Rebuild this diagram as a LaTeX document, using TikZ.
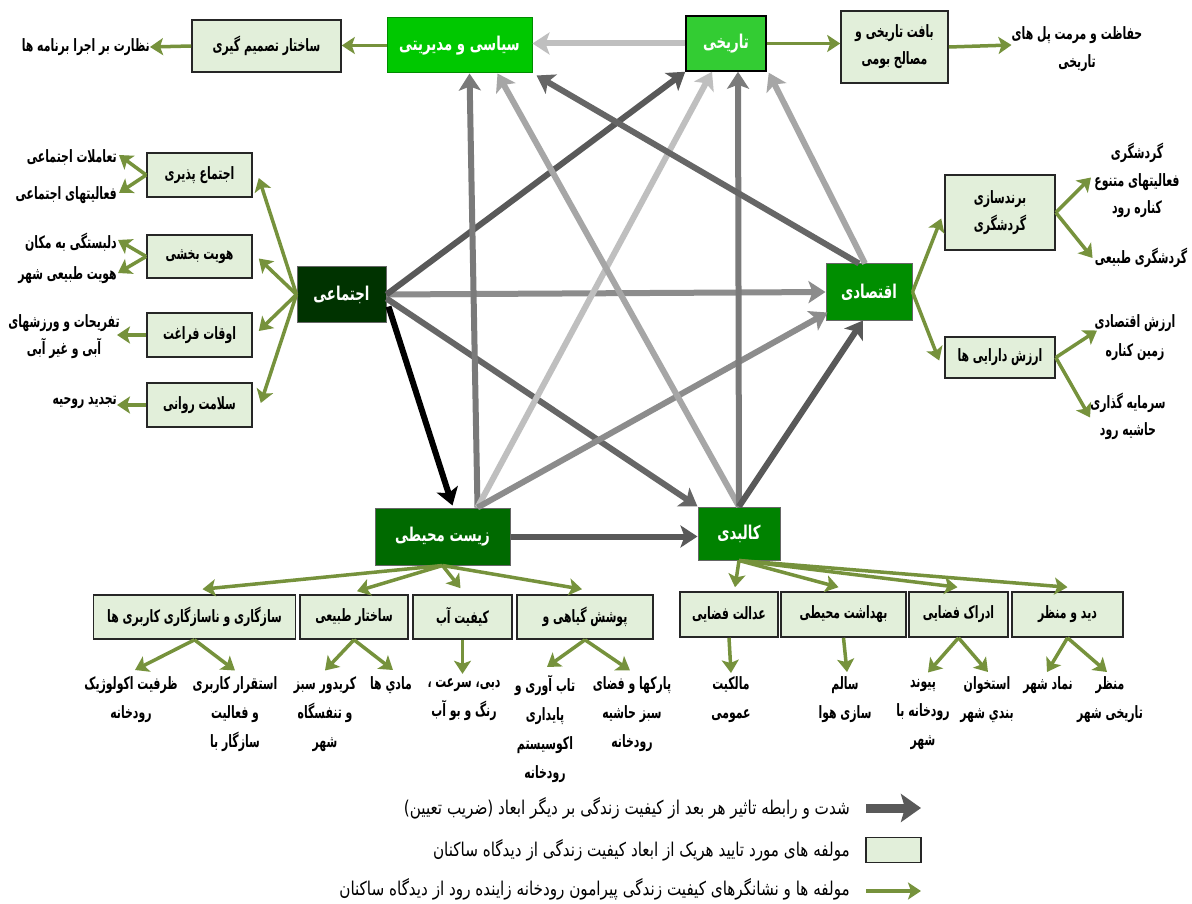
\documentclass[tikz,border=0pt]{standalone}
\usepackage{fontspec}
\usetikzlibrary{arrows.meta,calc}
\TeXXeTstate=1
\newfontfamily\fadim[Script=Arabic,FakeStretch=0.70]{DejaVu Sans}
\newfontfamily\facomp[Script=Arabic,FakeStretch=0.64]{DejaVu Sans}
\newfontfamily\faleg[Script=Arabic,FakeStretch=0.80]{DejaVu Sans}
\newcommand\RL[1]{\beginR#1\endR}
\definecolor{gline}{HTML}{76923C}
\definecolor{compfill}{HTML}{E2EFDA}
\definecolor{polc}{HTML}{00C800}
\definecolor{hisc}{HTML}{33CC33}
\definecolor{socc}{HTML}{003300}
\definecolor{ecoc}{HTML}{008E00}
\definecolor{envc}{HTML}{006A00}
\definecolor{phyc}{HTML}{008200}
\definecolor{ga}{HTML}{BFBFBF}
\definecolor{gb}{HTML}{A6A6A6}
\definecolor{gc}{HTML}{8C8C8C}
\definecolor{gd}{HTML}{7A7A7A}
\definecolor{ge}{HTML}{666666}
\definecolor{gf}{HTML}{595959}
\begin{document}
\begin{tikzpicture}[x=1pt,y=-1pt,
  gar/.style={line width=3.5pt, draw=gline, -{Stealth[length=13pt,width=17pt,inset=3pt]}},
  rel/.style={line width=6pt, draw=#1, -{Stealth[length=17pt,width=22pt,inset=4pt]}},
  dim/.style={fill=#1, draw=black!60, line width=1pt, text=white, font=\fadim\bfseries\fontsize{19}{21}\selectfont, inner sep=0pt},
  comp/.style={fill=compfill, draw=black!85, line width=1.6pt, font=\facomp\bfseries\fontsize{17}{27}\selectfont, inner sep=0pt, align=center},
  leaf/.style={font=\facomp\bfseries\fontsize{17}{29}\selectfont, inner sep=0pt, align=center},
  legt/.style={font=\faleg\fontsize{19}{21}\selectfont, inner sep=0pt, anchor=east}
]
\fill[white] (0,0) rectangle (1192,904);
\useasboundingbox (0,0) rectangle (1192,904);

% main dimensions
\node[dim=polc, draw=polc!70!black, minimum width=145pt, minimum height=55pt] (pol) at (459.5,45.5) {\RL{سیاسی و مدیریتی}};
\node[dim=hisc, draw=black, line width=1.5pt, minimum width=80pt, minimum height=55pt] (his) at (726,43.5) {\RL{تاریخی}};
\node[dim=socc, minimum width=89pt, minimum height=55pt] (soc) at (341.5,294.5) {\RL{اجتماعی}};
\node[dim=ecoc, minimum width=86pt, minimum height=56pt] (eco) at (869,292) {\RL{اقتصادی}};
\node[dim=envc, minimum width=135pt, minimum height=57pt] (env) at (442.5,536.5) {\RL{زیست محیطی}};
\node[dim=phyc, minimum width=82pt, minimum height=53pt] (phy) at (739,533.5) {\RL{کالبدی}};

% components
\node[comp, minimum width=149pt, minimum height=52pt] (dec) at (266.5,46) {\RL{ساختار تصمیم گیری}};
\node[comp, minimum width=107pt, minimum height=72pt] (baft) at (894.5,47) {\RL{بافت تاریخی و}\\\RL{مصالح بومی}};
\node[comp, minimum width=105pt, minimum height=44pt] (ej) at (199.5,175) {\RL{اجتماع پذیری}};
\node[comp, minimum width=105pt, minimum height=43pt] (hv) at (199.5,256.5) {\RL{هویت بخشی}};
\node[comp, minimum width=105pt, minimum height=44pt] (of) at (199.5,335) {\RL{اوقات فراغت}};
\node[comp, minimum width=105pt, minimum height=44pt] (sr) at (199.5,405) {\RL{سلامت روانی}};
\node[comp, minimum width=110pt, minimum height=75pt] (bg) at (1000,212.5) {\RL{برندسازی}\\\RL{گردشگری}};
\node[comp, minimum width=110pt, minimum height=41pt] (ad) at (1000,357.5) {\RL{ارزش دارایی ها}};
\node[comp, minimum width=202pt, minimum height=44pt] (saz) at (194.5,617) {\RL{سازگاری و ناسازگاری کاربری ها}};
\node[comp, minimum width=108pt, minimum height=44pt] (sak) at (354,617) {\RL{ساختار طبیعی}};
\node[comp, minimum width=99pt, minimum height=44pt] (kab) at (462.5,617) {\RL{کیفیت آب}};
\node[comp, minimum width=136pt, minimum height=44pt] (poo) at (585,617) {\RL{پوشش گیاهی و}};
\node[comp, minimum width=98pt, minimum height=45pt] (adl) at (729,614.5) {\RL{عدالت فضایی}};
\node[comp, minimum width=125pt, minimum height=45pt] (beh) at (843.5,614.5) {\RL{بهداشت محیطی}};
\node[comp, minimum width=99pt, minimum height=45pt] (edr) at (958.5,614.5) {\RL{ادراک فضایی}};
\node[comp, minimum width=111pt, minimum height=45pt] (did) at (1067.5,614.5) {\RL{دید و منظر}};

% leaves
\node[leaf, anchor=east] (nz) at (150,47) {\RL{نظارت بر اجرا برنامه ها}};
\node[leaf, font=\facomp\bfseries\fontsize{17}{28}\selectfont] (haf) at (1077,49) {\RL{حفاظت و مرمت پل های}\\\RL{تاریخی}};
\node[leaf, anchor=east] (tam) at (117,158) {\RL{تعاملات اجتماعی}};
\node[leaf, anchor=east] (fa) at (117,195) {\RL{فعالیتهای اجتماعی}};
\node[leaf, anchor=east] (del) at (117,242) {\RL{دلبستگی به مکان}};
\node[leaf, anchor=east] (hov) at (117,275) {\RL{هویت طبیعی شهر}};
\node[leaf, font=\facomp\bfseries\fontsize{17}{27}\selectfont] (taf) at (64,337) {\RL{تفریحات و ورزشهای}\\\RL{آبی و غیر آبی}};
\node[leaf, anchor=east] (taj) at (117,402) {\RL{تجدید روحیه}};
\node[leaf, font=\facomp\bfseries\fontsize{17}{27.5}\selectfont] (gf) at (1137,180.5) {\RL{گردشگری}\\\RL{فعالیتهای متنوع}\\\RL{کناره رود}};
\node[leaf] (gt) at (1141,258) {\RL{گردشگری طبیعی}};
\node[leaf] (ez) at (1135,337.5) {\RL{ارزش اقتصادی}\\\RL{زمین کناره}};
\node[leaf, font=\facomp\bfseries\fontsize{17}{27}\selectfont] (sg) at (1128,416.5) {\RL{سرمایه گذاری}\\\RL{حاشیه رود}};
\node[leaf] (zar) at (131,700) {\RL{ظرفیت اکولوژیک}\\\RL{رودخانه}};
\node[leaf] (est) at (235,714.5) {\RL{استقرار کاربری}\\\RL{و فعالیت}\\\RL{سازگار با}};
\node[leaf] (kor) at (325,714.5) {\RL{کریدور سبز}\\\RL{و تنفسگاه}\\\RL{شهر}};
\node[leaf] (mad) at (391,685) {\RL{مادي ها}};
\node[leaf] (dob) at (464,700) {\RL{دبی، سرعت ،}\\\RL{رنگ و بو آب}};
\node[leaf] (tab) at (545,729) {\RL{تاب آوری و}\\\RL{پایداری}\\\RL{اکوسیستم}\\\RL{رودخانه}};
\node[leaf] (park) at (632,714.5) {\RL{پارکها و فضای}\\\RL{سبز حاشیه}\\\RL{رودخانه}};
\node[leaf] (mal) at (731,700) {\RL{مالکیت}\\\RL{عمومی}};
\node[leaf] (sal) at (845,700) {\RL{سالم}\\\RL{سازی هوا}};
\node[leaf] (pay) at (923,714.5) {\RL{پیوند}\\\RL{رودخانه با}\\\RL{شهر}};
\node[leaf] (ost) at (987,700) {\RL{استخوان}\\\RL{بندي شهر}};
\node[leaf] (nem) at (1048,685) {\RL{نماد شهر}};
\node[leaf] (man) at (1110,700) {\RL{منظر}\\\RL{تاریخی شهر}};

% relations between dimensions
\draw[rel=ga] (his.west) -- (his.west -| pol.east);
\draw[rel=gc] (soc.east) -- (eco.west);
\draw[rel=gf] (soc.east) -- (his.south west);
\draw[rel=ge] ($(soc.east)+(0,4)$) -- (phy.north west);
\draw[rel=black] ($(soc.south east)+(2,-16)$) -- ($(env.north)+(10,-2)$);
\draw[rel=gd] ($(env.north)+(35,0)$) -- ($(pol.south)+(10,0)$);
\draw[rel=ga] ($(env.north)+(35,0)$) -- ($(his.south)+(-14,0)$);
\draw[rel=gc] ($(env.north)+(35,0)$) -- ($(eco.south west)+(2,-8)$);
\draw[rel=gf] (env.east) -- (env.east -| phy.west);
\draw[rel=gb] (phy.north) -- ($(pol.south)+(38,0)$);
\draw[rel=gd] (phy.north) -- ($(his.south)+(12,0)$);
\draw[rel=gf] (phy.north) -- ($(eco.south)+(-6,0)$);
\draw[rel=ge] ($(eco.north)+(-10,0)$) -- ($(pol.south east)+(4,2)$);
\draw[rel=gb] ($(eco.north)+(-4,0)$) -- ($(his.south east)+(2,1)$);

% green component arrows
\draw[gar] (pol.west) -- (pol.west -| dec.east);
\draw[gar] (dec.west) -- (nz.east);
\draw[gar] (his.east) -- (his.east -| baft.west);
\draw[gar] (baft.east) -- ($(haf.west)+(0,-4)$);

\draw[gar] (soc.west) -- ($(ej.east)+(6,3)$);
\draw[gar] (soc.west) -- ($(hv.east)+(6,2)$);
\draw[gar] (soc.west) -- ($(of.east)+(6,-4)$);
\draw[gar] (soc.west) -- ($(sr.east)+(8,-2)$);
\draw[gar] (ej.west) -- ($(tam.east)+(2,-3)$);
\draw[gar] (ej.west) -- ($(fa.east)+(2,-2)$);
\draw[gar] (hv.west) -- ($(del.east)+(1,-2)$);
\draw[gar] (hv.west) -- ($(hov.east)+(1,-2)$);
\draw[gar] (of.west) -- (of.west -| tam.east);
\draw[gar] (sr.west) -- (sr.west -| tam.east);

\draw[gar] (eco.east) -- ($(bg.west)+(-3,6)$);
\draw[gar] (eco.east) -- ($(ad.west)+(-5,3)$);
\draw[gar] (bg.east) -- ($(gf.center)+(-46,-3)$);
\draw[gar] (bg.east) -- ($(gt.west)+(-2,0)$);
\draw[gar] (ad.east) -- ($(ez.center)+(-38,-7)$);
\draw[gar] (ad.east) -- ($(sg.center)+(-38,1)$);

\draw[gar] (env.south) -- ($(saz.north)+(8,-5)$);
\draw[gar] (env.south) -- ($(sak.north)+(3,-3)$);
\draw[gar] (env.south) -- ($(kab.north)+(-2,-6)$);
\draw[gar] (env.south) -- ($(poo.north)+(-3,-5)$);
\draw[gar] (saz.south) -- ($(zar.center)+(4,-30)$);
\draw[gar] (saz.south) -- ($(est.center)+(0,-44)$);
\draw[gar] (sak.south) -- ($(kor.center)+(0,-44)$);
\draw[gar] (sak.south) -- ($(mad.center)+(2,-15)$);
\draw[gar] (kab.south) -- ($(kab.south)+(0,34)$);
\draw[gar] (poo.south) -- ($(tab.center)+(2,-62)$);
\draw[gar] (poo.south) -- ($(park.center)+(-2,-44)$);

\draw[gar] (phy.south) -- ($(adl.north)+(6,-4)$);
\draw[gar] (phy.south) -- ($(beh.north)+(-5,-4)$);
\draw[gar] (phy.south) -- ($(edr.north)+(-1,-4)$);
\draw[gar] (phy.south) -- ($(did.north)+(0,-4)$);
\draw[gar] (adl.south) -- ($(mal.center)+(0,-27)$);
\draw[gar] (beh.south) -- ($(sal.center)+(2,-28)$);
\draw[gar] (edr.south) -- ($(pay.center)+(5,-42)$);
\draw[gar] (edr.south) -- ($(ost.center)+(1,-28)$);
\draw[gar] (did.south) -- ($(nem.center)+(-1,-13)$);
\draw[gar] (did.south) -- ($(man.center)+(-3,-28)$);

% legend
\coordinate (l1a) at (866,808);
\coordinate (l1b) at (921,808);
\draw[line width=9pt, draw=gf, -{Stealth[length=20pt,width=28pt,inset=4pt]}] (l1a) -- (l1b);
\node[legt] (lt1) at (850,808) {\RL{شدت و رابطه تاثیر هر بعد از کیفیت زندگی بر دیگر ابعاد (ضریب تعیین)}};
\node[draw=black!85, line width=1.6pt, fill=compfill, minimum width=55pt, minimum height=25pt, inner sep=0pt] (lbox) at (893.5,850) {};
\node[legt] (lt2) at (850,850) {\RL{مولفه های مورد تایید هریک از ابعاد کیفیت زندگی از دیدگاه ساکنان}};
\coordinate (l3a) at (866,891);
\coordinate (l3b) at (921,891);
\draw[gar] (l3a) -- (l3b);
\node[legt] (lt3) at (850,889) {\RL{مولفه ها و نشانگرهای کیفیت زندگی پیرامون رودخانه زاینده رود از دیدگاه ساکنان}};
\end{tikzpicture}
\end{document}
